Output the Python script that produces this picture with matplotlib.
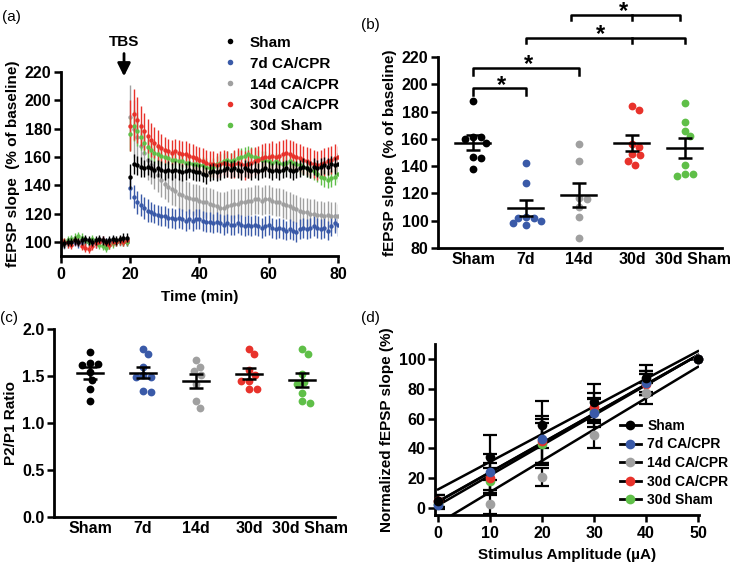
import numpy as np
import matplotlib
matplotlib.use("Agg")
import matplotlib.pyplot as plt
import matplotlib.transforms as mtransforms
from matplotlib.lines import Line2D

plt.rcParams['font.family'] = ['Liberation Sans', 'DejaVu Sans']
plt.rcParams['font.size'] = 11

# ---------------- data ----------------
groups = ["Sham", "7d CA/CPR", "14d CA/CPR", "30d CA/CPR", "30d Sham"]
short_groups = ["Sham", "7d", "14d", "30d", "30d Sham"]
colors = ["#000000", "#3a5aa8", "#a0a0a0", "#e8322b", "#5fbf48"]

# (a) LTP time course, % of baseline
t_base = list(range(0, 20))
t_post = list(range(20, 81))

base_vals = [
    [98, 99, 100, 100, 101, 100, 101, 102, 101, 100, 101, 102, 101, 100, 101, 102, 101, 102, 103, 103],
    [100, 99, 100, 101, 100, 99, 100, 101, 100, 100, 99, 100, 101, 100, 100, 101, 100, 101, 101, 100],
    [99, 98, 99, 100, 101, 100, 99, 100, 100, 99, 100, 101, 100, 99, 100, 100, 101, 100, 100, 101],
    [101, 100, 99, 98, 101, 100, 97, 96, 95, 97, 99, 100, 101, 99, 98, 100, 100, 101, 100, 101],
    [99, 100, 101, 102, 103, 104, 103, 101, 100, 102, 100, 98, 97, 96, 98, 99, 100, 101, 100, 100],
]
base_err = [3, 3, 3, 3, 3]

sham_post = [146, 155, 154, 153, 152, 153, 152, 151, 152, 151,
             150, 151, 150, 151, 150, 149, 150, 151, 150, 149,
             149, 148, 147, 149, 150, 149, 150, 151, 152, 151,
             152, 151, 150, 152, 151, 150, 151, 150, 151, 152,
             151, 150, 151, 150, 151, 152, 151, 150, 151, 152,
             153, 152, 151, 153, 152, 153, 154, 153, 155, 154,
             155]
d7_post = [138, 132, 128, 126, 124, 122, 121, 120, 119, 118,
           118, 117, 117, 116, 117, 116, 115, 116, 115, 116,
           116, 115, 114, 114, 113, 114, 113, 112, 113, 112,
           112, 113, 112, 111, 112, 111, 112, 111, 110, 111,
           112, 110, 109, 110, 109, 108, 109, 108, 107, 109,
           110, 109, 110, 111, 110, 109, 110, 108, 111, 113,
           112]
d14_post = [188, 180, 174, 168, 163, 158, 154, 150, 147, 144,
            141, 139, 137, 136, 134, 133, 132, 131, 130, 130,
            129, 128, 128, 127, 126, 125, 124, 124, 125, 126,
            127, 127, 128, 128, 129, 129, 130, 130, 129, 130,
            130, 129, 128, 128, 127, 126, 125, 124, 123, 122,
            121, 121, 120, 120, 119, 119, 118, 119, 118, 118,
            118]
d30_post = [182, 190, 186, 182, 178, 175, 172, 170, 168, 166,
            165, 164, 163, 164, 163, 162, 162, 161, 160, 159,
            158, 157, 156, 155, 155, 154, 155, 156, 155, 154,
            155, 156, 155, 154, 155, 156, 157, 158, 159, 160,
            160, 161, 160, 161, 162, 163, 162, 161, 160, 159,
            158, 157, 156, 155, 154, 155, 156, 157, 158, 159,
            160]
sham30_post = [176, 182, 178, 174, 170, 167, 165, 163, 162, 161,
               160, 159, 158, 158, 157, 157, 156, 156, 155, 155,
               154, 154, 153, 152, 153, 155, 156, 157, 158, 157,
               158, 159, 160, 161, 162, 161, 160, 159, 158, 158,
               157, 156, 157, 156, 155, 156, 157, 156, 155, 154,
               153, 152, 151, 150, 148, 146, 145, 144, 145, 146,
               148]

sham_post_err = [9, 7, 7, 7, 6, 6, 6, 6, 6, 6] + [6] * 50 + [8]
d7_post_err = [8, 8, 8, 8, 8, 8, 7, 7, 7, 7] + [7] * 50 + [8]
d14_post_err = [23, 20, 18, 16, 15, 14, 13, 13, 12, 12] + [11] * 20 + [10] * 30 + [9]
d30_post_err = [18, 18, 16, 14, 13, 12, 12, 11, 11, 10] + [9] * 20 + [10] * 30 + [8]
sham30_post_err = [12, 11, 10, 9, 8, 8, 7, 7, 7, 7] + [6] * 50 + [6]

post_vals = [sham_post, d7_post, d14_post, d30_post, sham30_post]
post_err = [sham_post_err, d7_post_err, d14_post_err, d30_post_err, sham30_post_err]

# (b) fEPSP slope at end of recording, individual slices
ltp_points = [
    [188, 161, 161, 160, 157, 146, 147, 138],
    [142, 128, 102, 103, 100, 102, 97, 98],
    [156, 144, 117, 116, 110, 103, 87],
    [184, 181, 156, 154, 149, 148, 144, 141],
    [186, 172, 166, 162, 134, 133, 134, 141],
]

# (c) paired-pulse ratio
ppr_points = [
    [1.76, 1.62, 1.63, 1.64, 1.54, 1.46, 1.36, 1.23],
    [1.79, 1.73, 1.60, 1.49, 1.49, 1.51, 1.33, 1.34],
    [1.67, 1.60, 1.51, 1.55, 1.42, 1.23, 1.16],
    [1.79, 1.73, 1.56, 1.51, 1.45, 1.45, 1.36, 1.36],
    [1.79, 1.73, 1.52, 1.44, 1.41, 1.32, 1.23, 1.21],
]

# (d) input-output curves
stim = [0, 10, 20, 30, 40, 50]
io_mean = [
    [5, 34, 56, 71, 87, 100],
    [2, 24, 46, 64, 84, 100],
    [3, 3, 21, 49, 77, 100],
    [5, 20, 45, 68, 83, 100],
    [3, 18, 43, 65, 84, 100],
]
io_err = [
    [4, 15, 16, 12, 9, 0],
    [3, 12, 16, 10, 8, 0],
    [3, 7, 6, 9, 7, 0],
    [4, 10, 15, 9, 7, 0],
    [3, 9, 14, 8, 8, 0],
]

# significance brackets in (b): (left, right, middle leg, height, star x)
brackets = [(0, 1, None, 197, 0.53), (0, 2, None, 212, 1.05),
            (1, 4, 3, 234, 2.4), (1.85, 3.9, 3, 251, 2.85)]

# ---------------- helpers ----------------
fig = plt.figure(figsize=(7.32, 5.67), dpi=100)
TICK = 11.5
LAB = 11


def style(ax, xticks_len=5):
    for s in ['top', 'right']:
        ax.spines[s].set_visible(False)
    for s in ['left', 'bottom']:
        ax.spines[s].set_linewidth(2)
    ax.tick_params(axis='y', length=5, width=1.8, labelsize=TICK, pad=2)
    ax.tick_params(axis='x', length=xticks_len, width=1.8, labelsize=TICK, pad=3)
    for lab in ax.get_xticklabels() + ax.get_yticklabels():
        lab.set_fontweight('bold')


def shift_last_label(ax, dx_px):
    off = mtransforms.ScaledTranslation(dx_px / 100, 0, fig.dpi_scale_trans)
    lab = ax.get_xticklabels()[-1]
    lab.set_transform(lab.get_transform() + off)


def swarm(ax, xc, vals, diam_px):
    # simple beeswarm layout in pixel space
    fig.canvas.draw()
    tr = ax.transData
    pts = [tr.transform((xc, v)) for v in vals]
    order = np.argsort(vals)[::-1]
    placed = []
    xs = [0.0] * len(vals)
    for i in order:
        px, py = pts[i]
        cands = [0.0]
        for (qx, qy) in placed:
            dy = abs(qy - py)
            if dy < diam_px:
                dx = np.sqrt(diam_px ** 2 - dy ** 2)
                cands += [qx - px + dx, qx - px - dx]
        cands.sort(key=abs)
        for c in cands:
            ok = all((px + c - qx) ** 2 + (py - qy) ** 2 >= diam_px ** 2 - 1e-6 for qx, qy in placed)
            if ok:
                break
        placed.append((px + c, py))
        xs[i] = px + c
    inv = tr.inverted()
    return [inv.transform((x, pts[0][1]))[0] for x in xs]


def scatter_mean(ax, points, half, cap, diam_px):
    for i, vals in enumerate(points):
        xs = swarm(ax, i, vals, diam_px)
        ax.plot(xs, vals, 'o', color=colors[i], ms=diam_px * 0.72, mew=0, zorder=2, clip_on=False)
        m = np.mean(vals)
        sem = np.std(vals, ddof=1) / np.sqrt(len(vals))
        ax.plot([i - half, i + half], [m, m], color='k', lw=1.8, zorder=3)
        ax.errorbar(i, m, yerr=sem, fmt='none', ecolor='k', elinewidth=1.8,
                    capsize=cap, capthick=1.8, zorder=3)


# ---------------- (a) ----------------
axa = fig.add_axes([61 / 732, 1 - 256 / 567, 277 / 732, 184 / 567])
zorders = [2.5, 2.1, 2.0, 2.3, 2.2]
for i in range(5):
    t = t_base + t_post
    v = base_vals[i] + post_vals[i]
    e = [base_err[i]] * len(t_base) + post_err[i]
    axa.errorbar(t, v, yerr=e, fmt='o', color=colors[i], ms=3.2, mew=0,
                 elinewidth=1.0, capsize=1.6, capthick=1.0, zorder=zorders[i])
axa.set_xlim(0, 80)
axa.set_ylim(90, 220)
axa.set_xticks([0, 20, 40, 60, 80])
axa.set_yticks(range(100, 221, 20))
style(axa)
axa.set_xlabel("Time (min)", fontweight='bold', fontsize=LAB, labelpad=6)
axa.set_ylabel("fEPSP slope  (% of baseline)", fontweight='bold', fontsize=LAB, labelpad=3)
axa.text(18.2, 241, "TBS", ha='center', va='center', fontweight='bold', fontsize=LAB)
axa.annotate('', xy=(18.2, 215), xytext=(18.2, 235), annotation_clip=False,
             arrowprops=dict(arrowstyle='-|>,head_length=0.7,head_width=0.35', lw=2, color='k'))
handles = [Line2D([], [], ls='none', marker='o', ms=4, mew=0, color=c) for c in colors]
axa.legend(handles, groups, loc='upper left', bbox_to_anchor=(0.56, 1.23),
           frameon=False, handlelength=1.0, handletextpad=0.8, labelspacing=0.45,
           borderaxespad=0, prop={'weight': 'bold', 'size': LAB})

# ---------------- (b) ----------------
axb = fig.add_axes([438 / 732, 1 - 248 / 567, 284 / 732, 191 / 567])
axb.set_xlim(-0.66, 4.7)
axb.set_ylim(80, 220)
axb.set_xticks(range(5))
axb.set_xticklabels(short_groups)
axb.set_yticks(range(80, 221, 20))
style(axb, xticks_len=0)
shift_last_label(axb, 8)
scatter_mean(axb, ltp_points, 0.33, 5, 7.8)
axb.set_ylabel("fEPSP slope  (% of baseline)", fontweight='bold', fontsize=LAB, labelpad=3)
for (l, r, mid, h, sx) in brackets:
    leg_len = 5 if mid is None else 4
    axb.plot([l, l, r, r], [h - leg_len, h, h, h - leg_len], color='k', lw=1.8, clip_on=False)
    if mid is not None:
        axb.plot([mid, mid], [h, h - leg_len], color='k', lw=1.8, clip_on=False)
    axb.text(sx, h - 2.5, "*", ha='center', va='baseline', fontsize=17,
             fontweight='bold', clip_on=False)

# ---------------- (c) ----------------
axc = fig.add_axes([54 / 732, 1 - 517 / 567, 281 / 732, 188 / 567])
axc.set_xlim(-0.68, 4.62)
axc.set_ylim(0, 2.0)
axc.set_xticks(range(5))
axc.set_xticklabels(short_groups)
axc.set_yticks([0, 0.5, 1.0, 1.5, 2.0])
axc.set_yticklabels(["0.0", "0.5", "1.0", "1.5", "2.0"])
style(axc, xticks_len=0)
shift_last_label(axc, 8)
scatter_mean(axc, ppr_points, 0.25, 5, 7.8)
axc.set_ylabel("P2/P1 Ratio", fontweight='bold', fontsize=LAB, labelpad=3)

# ---------------- (d) ----------------
axd = fig.add_axes([435 / 732, 1 - 515 / 567, 264 / 732, 171 / 567])
axd.set_xlim(-0.6, 50.2)
axd.set_ylim(-4.7, 110)
axd.set_xticks(range(0, 51, 10))
axd.set_yticks(range(0, 101, 20))
style(axd)
for i in range(5):
    a, b = np.polyfit(stim, io_mean[i], 1)
    x0 = max(0, (-4.7 - b) / a)
    axd.plot([x0, 50], [a * x0 + b, a * 50 + b], color='k', lw=1.8, zorder=2)
for i in [4, 3, 2, 1, 0]:
    axd.errorbar(stim, io_mean[i], yerr=io_err[i], fmt='none', ecolor='k',
                 elinewidth=1.6, capsize=5, capthick=1.6, zorder=3)
for i in [4, 3, 2, 1, 0]:
    axd.plot(stim, io_mean[i], 'o', color=colors[i], ms=7, mew=0, zorder=4, clip_on=False)
axd.set_xlabel("Stimulus Amplitude (\u00b5A)", fontweight='bold', fontsize=LAB, labelpad=5)
axd.set_ylabel("Normalized fEPSP slope (%)", fontweight='bold', fontsize=LAB, labelpad=3)
handles_d = [Line2D([], [], color='k', lw=2, marker='o', ms=7, mew=0,
                    markerfacecolor=c) for c in colors]
axd.legend(handles_d, groups, loc='upper left', bbox_to_anchor=(0.68, 0.595),
           frameon=False, handlelength=1.5, handletextpad=0.45, labelspacing=0.33,
           borderaxespad=0, prop={'weight': 'bold', 'size': 10})

# panel labels
fig.text(0.003, 1 - 17 / 567, "(a)", fontsize=LAB, va='center')
fig.text(361 / 732, 1 - 25 / 567, "(b)", fontsize=LAB, va='center')
fig.text(0.0, 1 - 318 / 567, "(c)", fontsize=LAB, va='center')
fig.text(361 / 732, 1 - 318 / 567, "(d)", fontsize=LAB, va='center')

fig.savefig("out.png", dpi=100)
